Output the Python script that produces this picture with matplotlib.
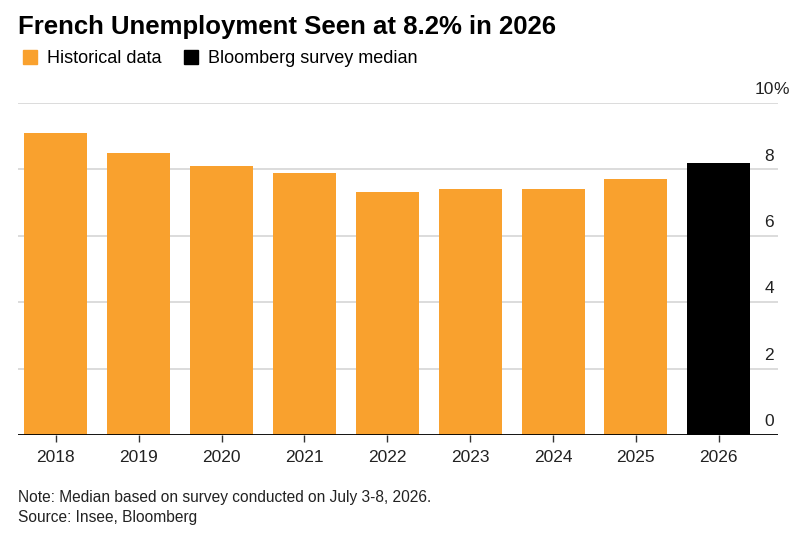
import matplotlib.pyplot as plt
from matplotlib.lines import Line2D

# data
years = ["2018", "2019", "2020", "2021", "2022", "2023", "2024", "2025", "2026"]
rates = [9.1, 8.5, 8.1, 7.9, 7.3, 7.4, 7.4, 7.7, 8.2]
is_survey = [False] * 8 + [True]
yticks = [0, 2, 4, 6, 8, 10]

orange = '#F9A12E'
black = '#000000'

plt.rcParams['font.family'] = ['Liberation Sans', 'DejaVu Sans']

fig = plt.figure(figsize=(8.1, 5.41), dpi=100)
ax = fig.add_axes([0.022, 0.196, 0.938, 0.614])

x = range(len(years))
colors = [black if s else orange for s in is_survey]
ax.bar(x, rates, width=0.76, color=colors, zorder=2)

ax.set_xlim(-0.46, len(years) - 1 + 0.71)
ax.set_ylim(0, 10)

# gridlines
for t in yticks[1:]:
    ax.axhline(t, color='#d6d6d6', lw=1.2, zorder=1)
ax.axhline(0, color='black', lw=1.3, zorder=3)

# right-side labels sitting above gridlines
for t in yticks:
    ax.text(0.995, t + 0.17, str(t), transform=ax.get_yaxis_transform(),
            ha='right', va='bottom', fontsize=12.5, color='#222222')
ax.text(0.995, 10 + 0.17, '%', transform=ax.get_yaxis_transform(),
        ha='left', va='bottom', fontsize=12.5, color='#222222')

ax.set_yticks([])
ax.set_xticks(list(x))
ax.set_xticklabels(years, fontsize=12.5, color='#222222')
ax.tick_params(axis='x', length=5, width=1, color='#333333', pad=6)
for s in ax.spines.values():
    s.set_visible(False)

fig.text(0.022, 0.951, 'French Unemployment Seen at 8.2% in 2026',
         fontsize=18.5, fontweight='bold', ha='left', va='center')

handles = [Line2D([], [], marker='s', ls='', markersize=10, color=orange),
           Line2D([], [], marker='s', ls='', markersize=10, color=black)]
fig.legend(handles, ['Historical data', 'Bloomberg survey median'],
           loc='center left', bbox_to_anchor=(0.006, 0.891), ncol=2,
           frameon=False, fontsize=13, handletextpad=0.45, columnspacing=1.1,
           handlelength=1.0)

fig.text(0.022, 0.081, 'Note: Median based on survey conducted on July 3-8, 2026.',
         fontsize=11.2, ha='left', va='center', color='#222222')
fig.text(0.022, 0.043, 'Source: Insee, Bloomberg',
         fontsize=11.2, ha='left', va='center', color='#222222')

fig.savefig('out.png', dpi=100)
